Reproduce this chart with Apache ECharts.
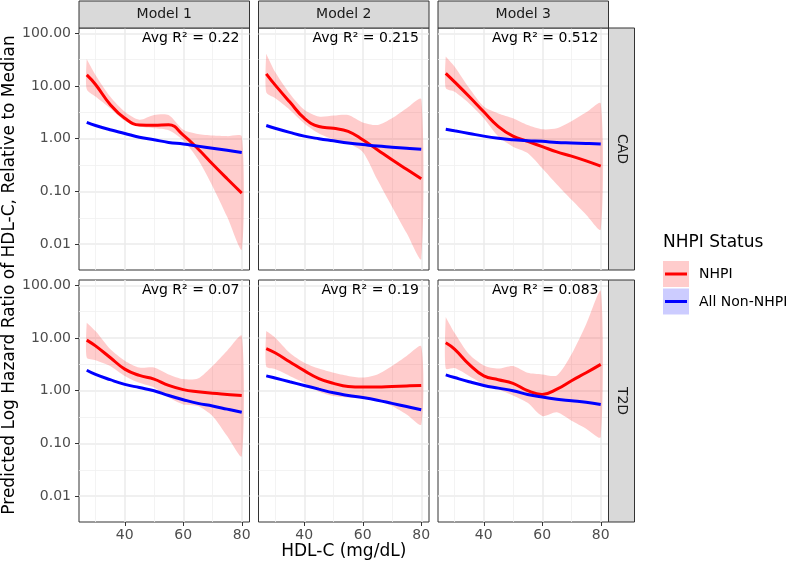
<!DOCTYPE html>
<html><head><meta charset="utf-8">
<script src="https://cdn.jsdelivr.net/npm/echarts@6/dist/echarts.min.js"></script>
<style>html,body{margin:0;padding:0;background:#fff}#c{width:788px;height:565px}</style>
</head><body><div id="c"></div>
<script>
// ---------- data ----------
const hdl = [27, 30, 35, 40, 45, 50, 55, 60, 65, 70, 75, 80];
const modelNames = ['Model 1', 'Model 2', 'Model 3'];
const outcomeNames = ['CAD', 'T2D'];
const r2Labels = ['Avg R\u00B2 = 0.22', 'Avg R\u00B2 = 0.215', 'Avg R\u00B2 = 0.512',
                  'Avg R\u00B2 = 0.07', 'Avg R\u00B2 = 0.19', 'Avg R\u00B2 = 0.083'];
const xTicks = [40, 60, 80];
const xMinorTicks = [30, 50, 70];
const yTicks = [0.01, 0.1, 1, 10, 100];
const yTickLabels = ['0.01', '0.10', '1.00', '10.00', '100.00'];
const yMinorTicks = [0.0316, 0.316, 3.16, 31.6];
const legendTitle = 'NHPI Status';
const legendLabels = ['NHPI', 'All Non-NHPI'];
const xTitle = 'HDL-C (mg/dL)';
const yTitle = 'Predicted Log Hazard Ratio of HDL-C, Relative to Median';

// CAD
const cadM1Nhpi   = [16.2, 10.7, 4.47, 2.45, 1.82, 1.80, 1.84, 1.17, 0.646, 0.331, 0.174, 0.093];
const cadM1Lo     = [8.71, 6.31, 3.80, 2.19, 1.70, 1.58, 1.45, 0.933, 0.407, 0.126, 0.0331, 0.00794];
const cadM1Hi     = [32.4, 16.2, 6.31, 3.24, 2.29, 2.82, 2.82, 1.48, 1.23, 1.15, 1.12, 1.10];
const cadM1Other  = [2.04, 1.78, 1.48, 1.26, 1.07, 0.955, 0.851, 0.794, 0.724, 0.661, 0.603, 0.550];

const cadM2Nhpi   = [17.0, 10.5, 5.01, 2.45, 1.70, 1.58, 1.38, 0.955, 0.617, 0.398, 0.263, 0.174];
const cadM2Lo     = [7.59, 5.89, 3.55, 1.95, 1.26, 0.977, 0.813, 0.562, 0.166, 0.0513, 0.0162, 0.00525];
const cadM2Hi     = [40.7, 18.6, 7.24, 3.55, 2.63, 2.75, 2.82, 2.04, 1.82, 2.45, 3.80, 5.62];
const cadM2Other  = [1.78, 1.58, 1.32, 1.12, 1.00, 0.912, 0.832, 0.776, 0.724, 0.692, 0.661, 0.631];

const cadM3Nhpi   = [17.4, 12.0, 6.31, 3.24, 1.70, 1.12, 0.891, 0.708, 0.562, 0.468, 0.380, 0.302];
const cadM3Lo     = [9.12, 7.76, 4.68, 2.45, 1.10, 0.708, 0.537, 0.275, 0.135, 0.0692, 0.0363, 0.0191];
const cadM3Hi     = [36.3, 23.4, 9.12, 4.07, 3.02, 2.45, 1.82, 1.51, 1.58, 2.14, 3.16, 4.68];
const cadM3Other  = [1.51, 1.41, 1.26, 1.12, 1.02, 0.955, 0.912, 0.891, 0.851, 0.832, 0.813, 0.794];

// T2D
const t2dM1Nhpi   = [9.12, 7.08, 4.27, 2.57, 1.95, 1.66, 1.26, 1.05, 0.955, 0.891, 0.851, 0.813];
const t2dM1Lo     = [4.27, 3.80, 2.95, 1.91, 1.41, 1.15, 0.741, 0.550, 0.513, 0.331, 0.138, 0.0575];
const t2dM1Hi     = [19.5, 13.5, 6.17, 3.72, 2.75, 2.75, 2.04, 1.66, 1.70, 2.95, 5.75, 11.0];
const t2dM1Other  = [2.45, 2.04, 1.62, 1.32, 1.15, 1.00, 0.813, 0.676, 0.575, 0.513, 0.447, 0.389];

const t2dM2Nhpi   = [6.31, 5.25, 3.55, 2.40, 1.70, 1.38, 1.20, 1.17, 1.17, 1.20, 1.23, 1.26];
const t2dM2Lo     = [2.88, 2.57, 1.91, 1.41, 0.955, 0.794, 0.741, 0.741, 0.661, 0.513, 0.355, 0.229];
const t2dM2Hi     = [13.5, 10.2, 5.25, 3.39, 2.63, 2.19, 1.91, 1.78, 2.04, 2.95, 4.57, 6.92];
const t2dM2Other  = [1.91, 1.74, 1.48, 1.26, 1.07, 0.912, 0.813, 0.741, 0.661, 0.575, 0.501, 0.437];

const t2dM3Nhpi   = [8.13, 6.17, 3.16, 1.91, 1.62, 1.38, 1.00, 0.851, 1.07, 1.55, 2.19, 3.16];
const t2dM3Lo     = [2.63, 2.69, 1.91, 1.32, 1.05, 0.813, 0.589, 0.331, 0.389, 0.269, 0.191, 0.132];
const t2dM3Hi     = [25.1, 12.6, 4.90, 3.02, 2.63, 2.95, 2.19, 2.04, 1.95, 4.90, 18.2, 77.6];
const t2dM3Other  = [2.00, 1.78, 1.48, 1.26, 1.12, 1.00, 0.851, 0.759, 0.692, 0.646, 0.603, 0.550];

const panelData = [
  [cadM1Nhpi, cadM1Lo, cadM1Hi, cadM1Other],
  [cadM2Nhpi, cadM2Lo, cadM2Hi, cadM2Other],
  [cadM3Nhpi, cadM3Lo, cadM3Hi, cadM3Other],
  [t2dM1Nhpi, t2dM1Lo, t2dM1Hi, t2dM1Other],
  [t2dM2Nhpi, t2dM2Lo, t2dM2Hi, t2dM2Other],
  [t2dM3Nhpi, t2dM3Lo, t2dM3Hi, t2dM3Other]
];

// ---------- layout / style ----------
const FONT = 'DejaVu Sans';
const colLeft = [79, 258.5, 438];
const panelW = 170.5;
const rowTop = [28, 280];
const panelH = 242;
const xMin = 24.35, xMax = 82.65;
const yMin = -2.49, yMax = 2.1;
const RED = '#FF0000', BLUE = '#0000FF';
const lg = v => Math.log10(v);

const grids = [], xAxes = [], yAxes = [], series = [], graphics = [];

function bandRenderer(rows) {
  return function (params, api) {
    if (params.dataIndex !== 0) return null;
    const upper = rows.map(d => api.coord([d[0], d[2]]));
    const lower = rows.map(d => api.coord([d[0], d[1]])).reverse();
    const cs = params.coordSys;
    return {
      type: 'group',
      children: [
        {type: 'polyline', shape: {points: upper.concat(lower).concat([upper[0]]), smooth: 0.25},
         style: {fill: 'rgba(255,0,0,0.2)', stroke: null, lineWidth: 0}}
      ],
      clipPath: {type: 'rect', shape: {x: cs.x, y: cs.y, width: cs.width, height: cs.height}}
    };
  };
}

for (let r = 0; r < 2; r++) {
  for (let c = 0; c < 3; c++) {
    const i = r * 3 + c;
    grids.push({left: colLeft[c], top: rowTop[r], width: panelW, height: panelH,
      show: true, borderColor: '#333333', borderWidth: 1, backgroundColor: '#fff',
      containLabel: false, outerBoundsMode: 'none'});
    xAxes.push({type: 'value', gridIndex: i, min: xMin, max: xMax, position: 'bottom',
      axisLine: {show: false, onZero: false},
      axisTick: {show: r === 1, customValues: xTicks, length: 4, lineStyle: {color: '#333333', width: 1}},
      axisLabel: {show: r === 1, customValues: xTicks, margin: 6, color: '#4D4D4D', fontSize: 14, fontFamily: FONT},
      splitLine: {show: true, lineStyle: {color: '#EBEBEB', width: 1.5}}
    });
    xAxes.push({type: 'value', gridIndex: i, min: xMin, max: xMax, position: 'bottom',
      axisLine: {show: false, onZero: false},
      axisTick: {show: false, customValues: xMinorTicks},
      axisLabel: {show: false, customValues: xMinorTicks},
      splitLine: {show: true, lineStyle: {color: '#F0F0F0', width: 0.8}}
    });
    yAxes.push({type: 'value', gridIndex: i, min: yMin, max: yMax, position: 'left',
      axisLine: {show: false, onZero: false},
      axisTick: {show: c === 0, customValues: yTicks.map(lg), length: 4, lineStyle: {color: '#333333', width: 1}},
      axisLabel: {show: c === 0, customValues: yTicks.map(lg), margin: 8, color: '#4D4D4D', fontSize: 14, fontFamily: FONT,
        formatter: v => { const k = yTicks.findIndex(t => Math.abs(lg(t) - v) < 1e-6); return k >= 0 ? yTickLabels[k] : ''; }},
      splitLine: {show: true, lineStyle: {color: '#EBEBEB', width: 1.5}}
    });
    yAxes.push({type: 'value', gridIndex: i, min: yMin, max: yMax, position: 'left',
      axisLine: {show: false, onZero: false},
      axisTick: {show: false, customValues: yMinorTicks.map(lg)},
      axisLabel: {show: false, customValues: yMinorTicks.map(lg)},
      splitLine: {show: true, lineStyle: {color: '#F0F0F0', width: 0.8}}
    });

    const [fit, lo, hi, other] = panelData[i];
    const bandRows = hdl.map((x, k) => [x, lg(lo[k]), lg(hi[k])]);
    series.push({type: 'custom', xAxisIndex: 2 * i, yAxisIndex: 2 * i, silent: true, animation: false,
      data: bandRows, encode: {x: 0, y: [1, 2]}, renderItem: bandRenderer(bandRows), z: 2});
    const base = {type: 'line', xAxisIndex: 2 * i, yAxisIndex: 2 * i, smooth: 0.45, symbol: 'none', silent: true, animation: false};
    series.push(Object.assign({}, base, {name: legendLabels[0],
      data: hdl.map((x, k) => [x, lg(fit[k])]), lineStyle: {color: RED, width: 3}, z: 3}));
    series.push(Object.assign({}, base, {name: legendLabels[1],
      data: hdl.map((x, k) => [x, lg(other[k])]), lineStyle: {color: BLUE, width: 3}, z: 4}));

    graphics.push({type: 'text', x: colLeft[c] + panelW - 10, y: rowTop[r] + 10, z: 100,
      style: {text: r2Labels[i], fill: '#000', font: '14px "' + FONT + '"', align: 'right', verticalAlign: 'middle'}});
  }
}

for (let c = 0; c < 3; c++) {
  graphics.push({type: 'rect', shape: {x: colLeft[c], y: 1, width: panelW, height: 27},
    style: {fill: '#D9D9D9', stroke: '#333333', lineWidth: 1}, z: 50});
  graphics.push({type: 'text', x: colLeft[c] + panelW / 2, y: 14.5, z: 51,
    style: {text: modelNames[c], fill: '#1A1A1A', font: '14px "' + FONT + '"', align: 'center', verticalAlign: 'middle'}});
}
const stripX = colLeft[2] + panelW;
for (let r = 0; r < 2; r++) {
  graphics.push({type: 'rect', shape: {x: stripX, y: rowTop[r], width: 26, height: panelH},
    style: {fill: '#D9D9D9', stroke: '#333333', lineWidth: 1}, z: 50});
  graphics.push({type: 'text', x: stripX + 13, y: rowTop[r] + panelH / 2, rotation: -Math.PI / 2, z: 51,
    style: {text: outcomeNames[r], fill: '#1A1A1A', font: '14px "' + FONT + '"', align: 'center', verticalAlign: 'middle'}});
}
graphics.push({type: 'text', x: (colLeft[0] + stripX) / 2, y: 552,
  style: {text: xTitle, fill: '#000', font: '17px "' + FONT + '"', align: 'center', verticalAlign: 'middle'}});
graphics.push({type: 'text', x: 10, y: rowTop[0] + (rowTop[1] + panelH - rowTop[0]) / 2, rotation: Math.PI / 2,
  style: {text: yTitle, fill: '#000', font: '17px "' + FONT + '"', align: 'center', verticalAlign: 'middle'}});
graphics.push({type: 'text', x: 663, y: 243,
  style: {text: legendTitle, fill: '#000', font: '17px "' + FONT + '"', align: 'left', verticalAlign: 'middle'}});
const keyFill = ['rgba(255,0,0,0.2)', 'rgba(0,0,255,0.2)'];
const keyLine = [RED, BLUE];
for (let k = 0; k < 2; k++) {
  const ky = 261 + k * 27.5;
  graphics.push({type: 'rect', shape: {x: 663, y: ky, width: 26, height: 26}, style: {fill: keyFill[k]}});
  graphics.push({type: 'line', shape: {x1: 665, y1: ky + 13, x2: 687, y2: ky + 13}, style: {stroke: keyLine[k], lineWidth: 3}});
  graphics.push({type: 'text', x: 699, y: ky + 13.5,
    style: {text: legendLabels[k], fill: '#000', font: '14px "' + FONT + '"', align: 'left', verticalAlign: 'middle'}});
}

const chart = echarts.init(document.getElementById('c'), null, {renderer: 'canvas'});
chart.setOption({
  animation: false,
  backgroundColor: '#fff',
  grid: grids, xAxis: xAxes, yAxis: yAxes, series: series,
  graphic: {elements: graphics}
});
</script></body></html>
